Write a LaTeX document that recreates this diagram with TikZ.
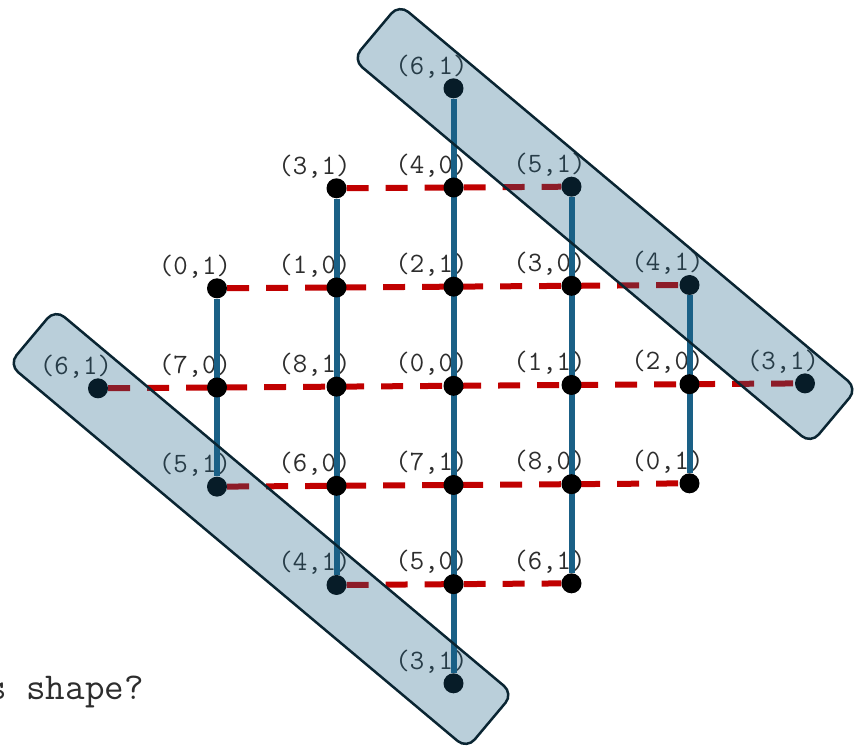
\documentclass[tikz,border=0pt]{standalone}
\usepackage{fontspec}
\definecolor{lineblue}{RGB}{26,96,134}
\definecolor{dashred}{RGB}{192,0,0}
\definecolor{rectedge}{RGB}{10,37,50}
\definecolor{labgray}{RGB}{45,45,45}
\pgfdeclarelayer{labels}
\pgfdeclarelayer{lines}
\pgfdeclarelayer{rects}
\pgfsetlayers{labels,lines,main,rects}
\begin{document}
\begin{tikzpicture}[x=1pt,y=-1pt,
  dot/.style={circle,fill=black,inner sep=0pt,minimum size=20pt},
  lab/.style={font=\ttfamily\fontsize{28}{28}\selectfont,text=labgray,inner sep=0pt},
  vline/.style={draw=lineblue,line width=6pt},
  hline/.style={draw=dashred,line width=6pt,dash pattern=on 22pt off 17pt},
  band/.style={draw=rectedge,line width=2.5pt,fill=lineblue,fill opacity=0.3,
    rounded corners=12pt,rotate=-40,minimum width=598pt,minimum height=72pt,inner sep=0pt}]
\useasboundingbox (0,0) rectangle (857,748);

\foreach \c/\r/\t in {3/0/{(6,1)},
  2/1/{(3,1)},3/1/{(4,0)},4/1/{(5,1)},
  1/2/{(0,1)},2/2/{(1,0)},3/2/{(2,1)},4/2/{(3,0)},5/2/{(4,1)},
  0/3/{(6,1)},1/3/{(7,0)},2/3/{(8,1)},3/3/{(0,0)},4/3/{(1,1)},5/3/{(2,0)},6/3/{(3,1)},
  1/4/{(5,1)},2/4/{(6,0)},3/4/{(7,1)},4/4/{(8,0)},5/4/{(0,1)},
  2/5/{(4,1)},3/5/{(5,0)},4/5/{(6,1)},
  3/6/{(3,1)}}{
  \pgfmathsetmacro\xx{{98,217,336.5,453.5,571.5,689.5,805}[\c]}
  \pgfmathsetmacro\yy{88.3+99.17*\r-0.007*(\xx-454)}
  \node[dot] (d\c\r) at (\xx,\yy) {};
  \begin{pgfonlayer}{labels}
    \node[lab] (l\c\r) at ([shift={(-22,-22)}]d\c\r) {\t};
  \end{pgfonlayer}
}

\begin{pgfonlayer}{lines}
  \draw[vline] (d12) -- (d14);
  \draw[vline] (d21) -- (d25);
  \draw[vline] (d30) -- (d36);
  \draw[vline] (d41) -- (d45);
  \draw[vline] (d52) -- (d54);
  \draw[hline] (d21) -- (d41);
  \draw[hline] (d12) -- (d52);
  \draw[hline] (d03) -- (d63);
  \draw[hline] (d14) -- (d54);
  \draw[hline] (d25) -- (d45);
\end{pgfonlayer}

\begin{pgfonlayer}{rects}
  \node[band] (bandA) at (605,224) {};
  \node[band] (bandB) at (261,529) {};
\end{pgfonlayer}

\node[font=\ttfamily\fontsize{38}{38}\selectfont,anchor=base west,inner sep=0pt,text=labgray] (q) at (-13,699) {s shape?};
\end{tikzpicture}
\end{document}
